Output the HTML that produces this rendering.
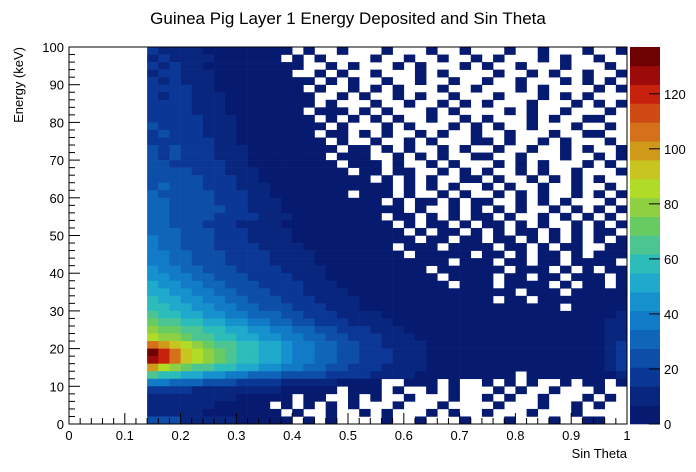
<!DOCTYPE html>
<html><head><meta charset="utf-8"><style>
html,body{margin:0;padding:0;background:#fff;width:696px;height:472px;overflow:hidden}
svg{display:block;font-family:"Liberation Sans",sans-serif}
</style></head><body>
<svg id="c" width="696" height="472">
<text x="348" y="24" text-anchor="middle" font-size="17">Guinea Pig Layer 1 Energy Deposited and Sin Theta</text>
<text x="627" y="458" text-anchor="end" font-size="13">Sin Theta</text>
<text transform="translate(23,47) rotate(-90)" text-anchor="end" font-size="13">Energy (keV)</text>
<g id="cells"></g>
<g id="axes"></g>
<g id="cbar"></g>
</svg>
<script>
// x bins: 0.14..1.00 step 0.02 ; y bins: rows from top, E 100..0 step 2
const xStart = 0.14, xStep = 0.02, eTop = 100, eStep = 2;
const zMax = 137;
const xTicks = [0,0.1,0.2,0.3,0.4,0.5,0.6,0.7,0.8,0.9,1];
const xTickLabels = ["0","0.1","0.2","0.3","0.4","0.5","0.6","0.7","0.8","0.9","1"];
const yTicks = [0,10,20,30,40,50,60,70,80,90,100];
const zTicks = [0,20,40,60,80,100,120];
const palette = ["#061a70","#09267f","#0b3896","#0d4ea8","#0f65ba","#117bc8","#1691cd","#1fa9cc","#2cbcba","#4cc592","#68cb62","#8ed042","#b0dc28","#c8c420","#cf9a1a","#d6701a","#d04a14","#c8220e","#9c0a0a","#6e0202"];
// band codes per cell ('.' = empty); value = band*zMax/20 + 3.4
const rows = [
"2111100000 000.0..0.. .0...0..0. ..0..0...0 ..0",
"1211110000 00.0.0.... 0..0..0..0 .0...0.0.. 0..",
"2121100000 0000..0.0. ..0.0...0. 0..0...0.. .0.",
"1221110000 000..0.0.. 0...0.0... .0..0.0..0 ..0",
"2121110000 00000.0.0. .0..0..0.. 0..0...0.0 .0.",
"2222110000 0000.0..0. 0.0...0..0 ...0.0.... 0.0",
"2122111000 00000..0.0 ..0.0..0.. .0...0.0.0 ...",
"2222111000 00000.0... 0..0..0.0. 0...0...0. 0.0",
"2222111000 0000.000.0 .0...0.0.. ..0.0..0.. .0.",
"2222211100 00000.0.0. 0.0..0..0. 0...0.0..0 0..",
"3222211100 000000.0.. .0.0...0.0 .0..0...0. .0.",
"2322211100 00000.00.0 .0..0.0..0 ..0...0..0 0..",
"2222221100 000000.0.. 0..0.0...0 0.0..0.0.. .0.",
"3232221110 0000000.00 .0.0..0.0. .0..0..0.0 ..0",
"3232221110 000000.000 ..0.0.0..0 0..0...0.. 0.0",
"3322222110 0000000.00 0.0..0.0.. .0.0.0...0 .0.",
"3333222111 00000000.0 0.00..0.0. 0..0.0..0. ..0",
"3333322211 0000000000 .0.0.0..00 .0..0.0.0. 0..",
"3433322211 1000000000 00.0.0.0.. 0.0..0..0. .0.",
"4333332221 10000000.0 00.0..0.0. .0.0.0..0. 0.0",
"4433332221 1100000000 0.0.00.0.0 0..0.0.0.. .0.",
"4433333221 1100000000 000.0..0.0 .0.0..0.0. 0.0",
"4433332222 1110000000 0.00.0.0.0 0.0..0.0.0 .0.",
"4433322211 1100000000 00.0.00.0. 00.0.0..0. 0.0",
"4443332221 1110000000 000.0.00.0 .0.00.0.0. 00.",
"5443332221 1110000000 0000.00.00 .00.0.0.0. 0.0",
"5443332222 1111000000 00.000.000 0.00.0.00. .00",
"5544333222 2111100000 000.00000. 00.0.00.0. 000",
"5544333222 2111100000 0000000.00 0.00.00.00 00.",
"6554433322 2211110000 00000.0000 00.000.0.0 .00",
"6655443332 2221110000 000000.000 0.00.00.00 0.0",
"7665544333 2222111000 0000000.00 0.0000.0.0 0.0",
"7766554433 3222111100 0000000000 000.000.00 000",
"8776655443 3322211110 0000000000 0.00.00000 000",
"8877665544 3332221110 0000000000 0000000.00 000",
"9887766554 4433222111 1000000000 0000000000 001",
"a998877665 5443322211 1100000000 0000000000 011",
"baa9988776 6554433222 1110000000 0000000000 011",
"cbba998877 6655443322 2111000000 0000000000 011",
"fedcba9988 7765544332 2111100000 0000000000 012",
"jhfdcba988 7765544332 2211100000 0000000000 012",
"ihfdcba988 7765544332 2211100000 0000000000 012",
"ecba998877 6655443322 2111100000 0000000000 012",
"9887766554 4433332222 1111000000 000.000000 001",
"5544433322 2211111000 0..000.0.. 0.0.0..0.0 0.0",
"2222111111 1100000.00 0.0..0.0.. .0.0..0... 0..",
"1111111100 000.00..0. 0..0...0.. 0.0..0...0 .0.",
"1111110000 0.0.0.0.0. ..0...0... .0...0..0. 0..",
"1111100000 00.0..0..0 .0...0.0.. 0...0...0. ...",
"3331111100 000.0.0... .0..0...0. ..0...0..0 0.."
];
const PX0=69, PX1=627, PY0=424, PY1=47;
const sx = v => PX0 + v*(PX1-PX0);
const sy = e => PY0 - e/100*(PY0-PY1);
const cz = z => PY0 - z/zMax*(PY0-PY1);
const NS="http://www.w3.org/2000/svg";
function mk(tag, attrs, parent){const el=document.createElementNS(NS,tag);for(const k in attrs)el.setAttribute(k,attrs[k]);parent.appendChild(el);return el;}
function colorFor(v){let b=Math.floor(v/zMax*20);if(b>19)b=19;if(b<0)b=0;return palette[b];}
const codes="0123456789abcdefghij";
const cells=document.getElementById('cells');
rows.forEach((row,r)=>{
  const s=row.replace(/ /g,'');
  for(let c=0;c<s.length;c++){
    const ch=s[c]; if(ch==='.') continue;
    const v=codes.indexOf(ch)*zMax/20+3.4;
    const x0=xStart+c*xStep, e1=eTop-r*eStep;
    const x=sx(x0), y=sy(e1), w=sx(x0+xStep)-x, h=sy(e1-eStep)-y;
    const el=mk('rect',{x:x.toFixed(2),y:y.toFixed(2),width:(w+0.3).toFixed(2),height:(h+0.3).toFixed(2),fill:colorFor(v)},cells);
    
    
  }
});
const ax=document.getElementById('axes');
const frame=mk('rect',{x:PX0,y:PY1,width:PX1-PX0,height:PY0-PY1,fill:'none',stroke:'#000','stroke-width':1},ax);


for(let i=0;i<=50;i++){const v=i/50;const len=(i%5===0)?11:6;mk('line',{x1:sx(v),x2:sx(v),y1:PY0,y2:PY0-len,stroke:'#000'},ax);}
xTicks.forEach((v,i)=>{const t=mk('text',{x:sx(v),y:440,'text-anchor':'middle','font-size':13},ax);t.textContent=xTickLabels[i];

});
for(let e=0;e<=100;e+=2){const len=(e%10===0)?11:6;mk('line',{x1:PX0,x2:PX0+len,y1:sy(e),y2:sy(e),stroke:'#000'},ax);}
yTicks.forEach(e=>{const t=mk('text',{x:64,y:sy(e)+5,'text-anchor':'end','font-size':13},ax);t.textContent=String(e);

});
const cb=document.getElementById('cbar');
palette.forEach((col,i)=>{const y0=cz((i+1)*zMax/20),y1=cz(i*zMax/20);
const r=mk('rect',{x:630,y:y0.toFixed(2),width:30,height:(y1-y0+0.3).toFixed(2),fill:col},cb);

});
zTicks.forEach(z=>{mk('line',{x1:649,x2:660,y1:cz(z),y2:cz(z),stroke:'#000'},cb);
const t=mk('text',{x:664,y:cz(z)+5,'font-size':13},cb);t.textContent=String(z);

});
</script>
</body></html>
